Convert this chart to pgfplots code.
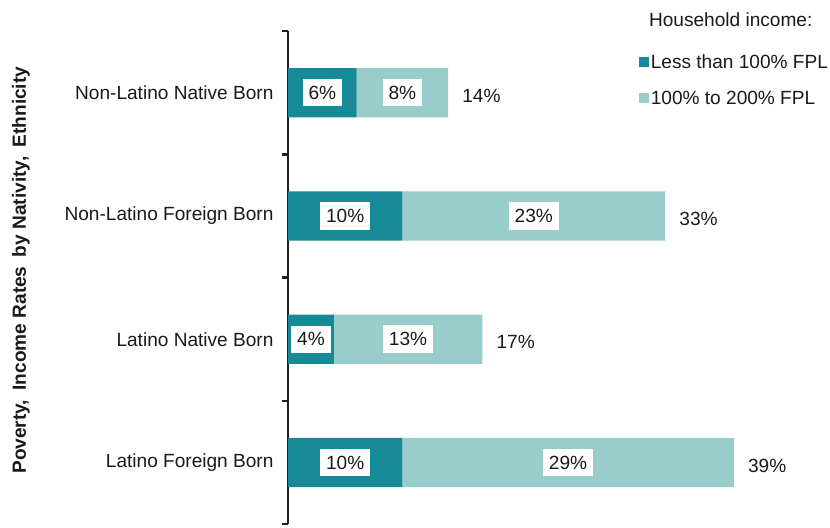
\documentclass[border=0pt]{standalone}
\usepackage{fontspec}
\setmainfont{Liberation Sans}
\usepackage{pgfplots}
\pgfplotsset{compat=1.18}
\definecolor{darkteal}{RGB}{22,138,150}
\definecolor{lightteal}{RGB}{153,205,204}
\definecolor{axcol}{RGB}{35,31,32}
\definecolor{txt}{RGB}{26,26,26}
\pgfplotsset{
  commonframe/.style={x=11.38pt, y=122.75pt,
    xmin=0, xmax=47.7, ymin=-0.5, ymax=3.5, clip=false,
    /pgf/number format/assume math mode=true},
}
\begin{document}
\begin{tikzpicture}[font=\fontsize{19}{23}\selectfont, text=txt]
\begin{axis}[
  commonframe,
  xbar stacked, bar width=0.4,
  axis x line=none, axis y line=left,
  y axis line style={-, line width=2.5pt, color=axcol},
  xtick=\empty,
  ytick={0,1,2,3},
  yticklabels={Latino Foreign Born, Latino Native Born, Non-Latino Foreign Born, Non-Latino Native Born},
  major tick length=0pt,
  yticklabel style={font=\fontsize{19}{23}\selectfont, xshift=-11pt},
  extra y ticks={-0.5,0.5,1.5,2.5,3.5},
  extra y tick labels={},
  extra y tick style={major tick length=6pt, tick align=outside,
    major tick style={line width=2.5pt, color=axcol}},
  ylabel={\bfseries Poverty,\hspace{4pt} Income Rates\hspace{4pt} by Nativity,\hspace{4pt} Ethnicity},
  ylabel style={at={(axis description cs:-0.490,0.515)}, anchor=center, font=\fontsize{19}{23}\selectfont},
  legend style={draw=none, fill=none, at={(0.643,0.957)}, anchor=north west,
    cells={anchor=west}, row sep=17pt, inner sep=0pt, font=\fontsize{19}{23}\selectfont},
  legend image code/.code={\fill[#1] (0pt,-5pt) rectangle (10pt,5pt);},
  nodes near coords={\pgfmathprintnumber{\pgfplotspointmeta}\%},
  every node near coord/.append style={fill=white, text=txt, anchor=center,
    inner xsep=6pt, inner ysep=7pt},
]
% below 100% FPL
\addplot[fill=darkteal, draw=none, point meta=rawx]
  coordinates {(10,0) (4,1) (10,2) (6,3)};
\addlegendentry{Less than 100\% FPL}
% 100-200% FPL
\addplot[fill=lightteal, draw=none, point meta=rawx]
  coordinates {(29,0) (13,1) (23,2) (8,3)};
\addlegendentry{100\% to 200\% FPL}
\node[anchor=base, yshift=5pt] at (rel axis cs:0.812,1) {Household income:};
\path (rel axis cs:-0.5285,1.063);
\end{axis}
% totals
\begin{axis}[commonframe, hide axis]
\addplot[only marks, mark=none, point meta=x,
  nodes near coords={\pgfmathprintnumber{\pgfplotspointmeta}\%},
  every node near coord/.append style={anchor=west, inner sep=0pt, xshift=14pt, yshift=-3pt, text=txt}]
  coordinates {(39,0) (17,1) (33,2) (14,3)};
\end{axis}
\end{tikzpicture}
\end{document}
